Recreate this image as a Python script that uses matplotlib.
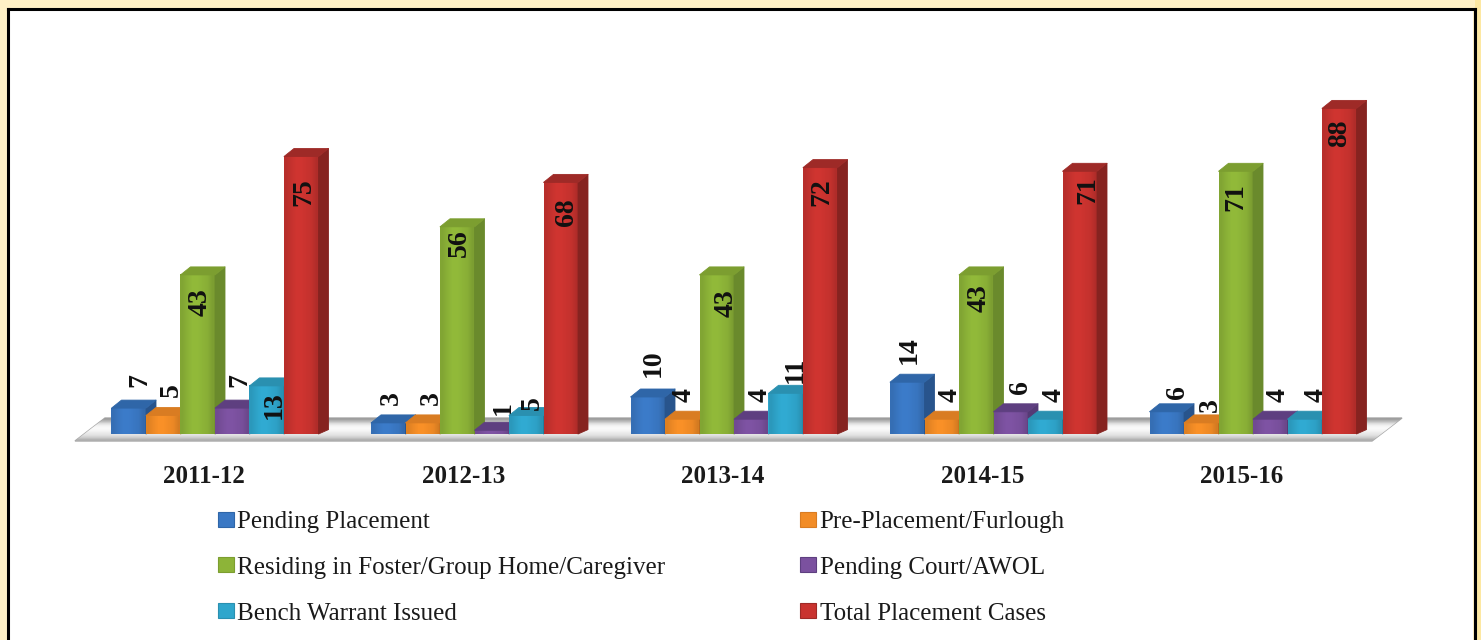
import matplotlib
matplotlib.use("Agg")
import matplotlib.pyplot as plt
import numpy as np
from matplotlib.colors import to_rgb
from matplotlib.patches import Patch, Polygon, Rectangle
from matplotlib.lines import Line2D

plt.rcParams['font.family'] = ['Liberation Serif', 'DejaVu Serif']

# ---- data ----
years = ["2011-12", "2012-13", "2013-14", "2014-15", "2015-16"]
pending_placement = [7, 3, 10, 14, 6]
pre_placement = [5, 3, 4, 4, 3]
residing = [43, 56, 43, 43, 71]
pending_court = [7, 1, 4, 6, 4]
bench_warrant = [13, 5, 11, 4, 4]
total_cases = [75, 68, 72, 71, 88]

series_names = ["Pending Placement", "Pre-Placement/Furlough",
                "Residing in Foster/Group Home/Caregiver", "Pending Court/AWOL",
                "Bench Warrant Issued", "Total Placement Cases"]
series_values = [pending_placement, pre_placement, residing,
                 pending_court, bench_warrant, total_cases]

# ---- style ----
front = ["#3A78C4", "#F28C26", "#8DB438", "#7B519F", "#2FA6CC", "#C9332F"]
top = ["#2F66A8", "#D97C22", "#7C9E30", "#5E3F80", "#2A90B0", "#9E2A27"]
side = ["#28548C", "#B8691C", "#6A8A2C", "#553A75", "#217C9A", "#862320"]

W, H = 1481, 640
PX_X = 259.5            # pixels per category
PX_Y = 3.7              # pixels per value unit
BASE_PX = 434
C0_PX = 215
BAR_W = 34.5 / PX_X
DX, DY = 10 / PX_X, 8 / PX_Y
LABEL_SHIFT = 2         # rotated text sits slightly left of its anchor

# label nudges in pixels from bar-top centre, one row per series
nudge_x = [[9, 1, 4, 0, 9], [6, 7, 0, 6.5, 7.5], [0, 0, 7, 1, -2],
           [6, 10, 6.5, 7.5, 5.5], [6, 4, 7, 7, 9], [1, 4, 0, 6, -1.5]]
nudge_y = [[28, 25, 34, 32, 20], [25.5, 25, 24, 24, 18], [-27, -16, -28, -23, -26],
           [28, 22, 24, 25, 24], [-19, 12, 23, 24, 24], [-36, -30, -25, -19, -25]]

fig = plt.figure(figsize=(W / 100, H / 100), dpi=100, facecolor="#FFF1C6")

# page frame
fig.add_artist(Rectangle((1475 / W, 0), 6 / W, 1, transform=fig.transFigure,
                         facecolor="#FDE8A2", edgecolor="none", zorder=-6))
fig.add_artist(Rectangle((8 / W, 0), (W - 16) / W, (H - 9) / H, transform=fig.transFigure,
                         facecolor="white", edgecolor="none", zorder=-5))
for xs, ys in [((7.5, 7.5), (0, H - 8.5)), ((7.5, W - 6.5), (H - 8.5, H - 8.5)),
               ((W - 6.5, W - 6.5), (H - 8.5, 0))]:
    fig.add_artist(Line2D(np.array(xs) / W, np.array(ys) / H, color="black", lw=2.2,
                          solid_capstyle="projecting", transform=fig.transFigure, zorder=-4))

ax = fig.add_axes([0, 0, 1, 1], facecolor="none")
xlim = (-C0_PX / PX_X, (W - C0_PX) / PX_X)
ylim = (-(H - BASE_PX) / PX_Y, BASE_PX / PX_Y)


def px(xp, yp):
    return (xp - C0_PX) / PX_X, (BASE_PX - yp) / PX_Y


# floor
floor_xy = [px(75, 441), px(1372, 441), px(1402, 418), px(105, 418)]
floor = Polygon(floor_xy, closed=True, facecolor="#DDDDDD", edgecolor="#A9A9A9", lw=1.0, zorder=1)
ax.add_patch(floor)
grad = np.array([0.62, 0.74, 0.88, 0.96, 0.98, 0.96, 0.92, 0.88, 0.80, 0.68])[:, None]
im = ax.imshow(grad, cmap="gray", vmin=0, vmax=1, aspect="auto", interpolation="bilinear",
               extent=(px(75, 0)[0], px(1402, 0)[0], px(0, 441)[1], px(0, 418)[1]), zorder=1.5)
im.set_clip_path(floor)

n = len(series_values)
for g in range(len(years)):
    for k, vals in enumerate(series_values):
        v = vals[g]
        z = 10 + 2 * k
        x = g + (k - (n - 1) / 2) * BAR_W
        l, r = x - BAR_W / 2, x + BAR_W / 2
        ax.bar(x, v, width=BAR_W, color=front[k], linewidth=0, zorder=z)
        # highlight across the front face
        rgb = np.array(to_rgb(front[k]))
        shade = np.array([0.92, 0.98, 1.03, 1.03, 1.00, 0.97, 0.88])
        img = np.clip(rgb[None, None, :] * shade[None, :, None], 0, 1)
        ax.imshow(img, aspect="auto", interpolation="bilinear", extent=(l, r, 0, v), zorder=z + 0.1)
        ax.add_patch(Polygon([(r, 0), (r + DX, DY * 0.55), (r + DX, v + DY), (r, v)], closed=True,
                             facecolor=side[k], edgecolor=side[k], lw=0.6, joinstyle="round",
                             zorder=z + 0.2))
        ax.add_patch(Polygon([(l, v), (r, v), (r + DX, v + DY), (l + DX, v + DY)], closed=True,
                             facecolor=top[k], edgecolor=top[k], lw=0.6, joinstyle="round",
                             zorder=z + 0.2))
        ax.annotate(str(v), xy=(x, v), xytext=(nudge_x[k][g] + LABEL_SHIFT, nudge_y[k][g]),
                    textcoords="offset pixels", rotation=90, ha="center", va="center",
                    fontsize=20, fontweight="bold", color="#111111", zorder=z + 0.5)

ax.set_xlim(*xlim)
ax.set_ylim(*ylim)
ax.spines["bottom"].set_position(("data", 0))
for s in ax.spines.values():
    s.set_visible(False)
ax.set_yticks([])
ax.set_xticks(np.arange(len(years)) - 11 / PX_X)
ax.set_xticklabels(years, fontsize=18, fontweight="bold", color="#1A1A1A")
ax.tick_params(axis="x", length=0, pad=22)

# legend: two columns read row by row in the reference
order = [0, 2, 4, 1, 3, 5]
handles = [Patch(facecolor=front[i], edgecolor=top[i], lw=0.8, label=series_names[i]) for i in order]
leg = fig.legend(handles=handles, ncol=2, loc="upper left",
                 bbox_to_anchor=(218 / W, 1 - 511 / H), bbox_transform=fig.transFigure,
                 frameon=False, fontsize=18, handlelength=0.62, handleheight=0.55,
                 handletextpad=0.15, labelspacing=0.95, columnspacing=5.4,
                 borderpad=0, borderaxespad=0, labelcolor="#1A1A1A")

fig.savefig("out.png", dpi=100, facecolor=fig.get_facecolor())
